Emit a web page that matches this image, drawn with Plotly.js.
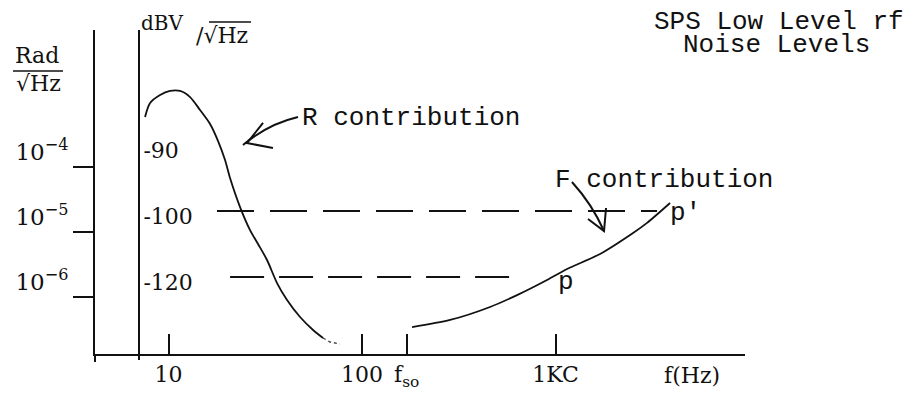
<!DOCTYPE html>
<html>
<head>
<meta charset="utf-8">
<script src="https://cdn.plot.ly/plotly-3.0.1.min.js"></script>
<style>
  html, body { margin: 0; padding: 0; background: #fff; }
  #chart { width: 911px; height: 393px; }
</style>
</head>
<body>
<div id="chart"></div>
<script>
// R contribution (low-frequency noise), frequency in Hz vs Rad/sqrt(Hz)
const fHzR = [7.56, 8.03, 9.04, 10.18, 11.47, 12.92, 14.55, 16.39, 18.03, 19.59,
              20.79, 23.42, 26.38, 29.01, 32.28, 36.37, 40.97, 47.82, 55.83, 62.86];
const radR = [5.88e-4, 9.65e-4, 1.28e-3, 1.48e-3, 1.48e-3, 1.19e-3, 7.53e-4, 4.59e-4, 2.51e-4, 1.28e-4,
              6.77e-5, 2.42e-5, 1.07e-5, 6.54e-6, 3.71e-6, 1.64e-6, 8.99e-7, 4.92e-7, 3.11e-7, 2.34e-7];
// faint dotted tail of the R curve
const fHzRTail = [62.86, 68.3, 76.9];
const radRTail = [2.34e-7, 2.03e-7, 1.89e-7];

// F contribution (rises with frequency)
const fHzF = [181.3, 285.0, 458.6, 632.4, 903.8, 1147, 1698, 2515, 2971, 3906];
const radF = [3.45e-7, 4.43e-7, 7.02e-7, 1.07e-6, 1.83e-6, 2.70e-6, 4.59e-6, 9.65e-6, 1.38e-5, 2.79e-5];

// dBV/sqrt(Hz) reference levels (right-hand scale) and the dashed level lines
const dbvLevels = ['-120', '-100', '-90'];
const levelHigh = '-100';
const levelHighSpanHz = [17.8, 3346];
const levelLow = '-120';
const levelLowSpanHz = [20.8, 648];

// frequency ticks
const fso = 170;
const xTickVals = [10, 100, fso, 1000];
const xTickText = ['10', '100', 'f<sub>so</sub>', '1KC'];

// Rad/sqrt(Hz) ticks
const radTickVals = [1e-4, 1e-5, 1e-6];
const radTickText = ['10<sup>\u22124</sup>', '10<sup>\u22125</sup>', '10<sup>\u22126</sup>'];

const INK = '#111';
const SERIF = 'DejaVu Serif, serif';
const MONO = 'Liberation Mono, monospace';

// plot-area geometry (page pixels), used to place the hand-drawn callouts
const L = 95, T = 30, W = 650, H = 324;
const px = x => (x - L) / W;
const py = y => (T + H - y) / H;
const P = (x, y) => px(x).toFixed(4) + ',' + py(y).toFixed(4);

const traces = [
  { x: fHzR, y: radR, mode: 'lines', line: { color: INK, width: 1.8, shape: 'spline', smoothing: 0.8 },
    hoverinfo: 'skip', showlegend: false },
  { x: fHzRTail, y: radRTail, mode: 'lines', line: { color: '#444', width: 1.4, dash: 'dot' },
    hoverinfo: 'skip', showlegend: false },
  { x: fHzF, y: radF, mode: 'lines', line: { color: INK, width: 1.8, shape: 'spline', smoothing: 0.8 },
    hoverinfo: 'skip', showlegend: false },
  { x: levelHighSpanHz, y: [levelHigh, levelHigh], yaxis: 'y2', mode: 'lines',
    line: { color: INK, width: 2, dash: '37px,16px' }, hoverinfo: 'skip', showlegend: false },
  { x: levelLowSpanHz, y: [levelLow, levelLow], yaxis: 'y2', mode: 'lines',
    line: { color: INK, width: 2, dash: '34px,15px' }, hoverinfo: 'skip', showlegend: false },
  // registers every dBV level on the category scale
  { x: [1, 1, 1], y: dbvLevels, yaxis: 'y2', mode: 'markers', marker: { opacity: 0 },
    hoverinfo: 'skip', showlegend: false }
];

const shapes = [
  // axis stubs below the frequency axis
  { type: 'line', xref: 'paper', yref: 'paper', x0: 0, x1: 0, y0: 0, y1: py(362), line: { color: INK, width: 2 } },
  { type: 'line', xref: 'paper', yref: 'paper', x0: px(139), x1: px(139), y0: 0, y1: py(360), line: { color: INK, width: 2 } },
  // fraction bar of Rad / sqrt(Hz)
  { type: 'line', xref: 'paper', yref: 'paper', x0: px(13), x1: px(63), y0: py(71), y1: py(71), line: { color: INK, width: 1.6 } },
  // radical bar over Hz in dBV/sqrt(Hz)
  { type: 'line', xref: 'paper', yref: 'paper', x0: px(209), x1: px(251), y0: py(22), y1: py(22), line: { color: INK, width: 1.4 } },
  // R contribution arrow
  { type: 'path', xref: 'paper', yref: 'paper', line: { color: INK, width: 2 },
    path: 'M' + P(298, 117) + ' Q' + P(268, 124) + ' ' + P(243, 145) },
  { type: 'path', xref: 'paper', yref: 'paper', line: { color: INK, width: 2 },
    path: 'M' + P(263, 123) + ' L' + P(247, 143) + ' L' + P(273, 148) },
  // F contribution arrow
  { type: 'path', xref: 'paper', yref: 'paper', line: { color: INK, width: 2 },
    path: 'M' + P(572, 182) + ' Q' + P(592, 204) + ' ' + P(604, 231) },
  { type: 'path', xref: 'paper', yref: 'paper', line: { color: INK, width: 2 },
    path: 'M' + P(588, 219) + ' L' + P(604, 231) + ' L' + P(606, 208) }
];

const ann = (text, x, y, font, extra) => Object.assign({
  text: text, xref: 'paper', yref: 'paper', x: px(x), y: py(y), showarrow: false,
  xanchor: 'center', yanchor: 'middle', borderpad: 0, font: Object.assign({ color: INK }, font)
}, extra || {});

const annotations = [
  ann('SPS Low Level rf', 779, 22, { family: MONO, size: 26 }),
  ann('Noise Levels', 776, 45, { family: MONO, size: 26 }),
  ann('R contribution', 301, 118, { family: MONO, size: 26 }, { xanchor: 'left' }),
  ann('F contribution', 554, 180, { family: MONO, size: 26 }, { xanchor: 'left' }),
  ann('p', 566, 282, { family: MONO, size: 26 }),
  ann("p'", 685, 213, { family: MONO, size: 26 }),
  ann('Rad', 37, 55, { family: SERIF, size: 22 }),
  ann('\u221AHz', 38, 84, { family: SERIF, size: 22 }),
  ann('dBV', 162, 23, { family: SERIF, size: 20 }),
  ann('/\u221AHz', 222, 36, { family: SERIF, size: 22 }),
  ann('f(Hz)', 692, 375, { family: SERIF, size: 22 })
];

const layout = {
  width: 911, height: 393,
  margin: { l: L, r: 911 - L - W, t: T, b: 393 - T - H, pad: 0 },
  paper_bgcolor: '#fff', plot_bgcolor: '#fff',
  showlegend: false,
  xaxis: {
    type: 'log', range: [0.620, 3.979],
    tickvals: xTickVals, ticktext: xTickText,
    ticks: 'inside', ticklen: 20, tickwidth: 2, tickcolor: INK,
    showline: true, linewidth: 2, linecolor: INK,
    showgrid: false, zeroline: false,
    tickfont: { family: SERIF, size: 22, color: INK },
    ticklabelstandoff: 0
  },
  yaxis: {
    type: 'log', range: [-6.877, -1.892],
    tickvals: radTickVals, ticktext: radTickText,
    ticks: 'outside', ticklen: 20, tickwidth: 2, tickcolor: INK,
    showline: true, linewidth: 2, linecolor: INK,
    showgrid: false, zeroline: false,
    tickfont: { family: SERIF, size: 23, color: INK },
    ticklabelshift: -15, ticklabelstandoff: 0
  },
  yaxis2: {
    type: 'category', categoryorder: 'array', categoryarray: dbvLevels,
    range: [-1.167, 3.742],
    overlaying: 'y', anchor: 'free', position: px(139), side: 'right',
    showline: true, linewidth: 2, linecolor: INK,
    ticks: '', showgrid: false, zeroline: false,
    tickfont: { family: SERIF, size: 22, color: INK },
    ticklabelshift: 5, ticklabelstandoff: -1
  },
  shapes: shapes,
  annotations: annotations
};

Plotly.newPlot('chart', traces, layout, { staticPlot: true, displayModeBar: false });
</script>
</body>
</html>
